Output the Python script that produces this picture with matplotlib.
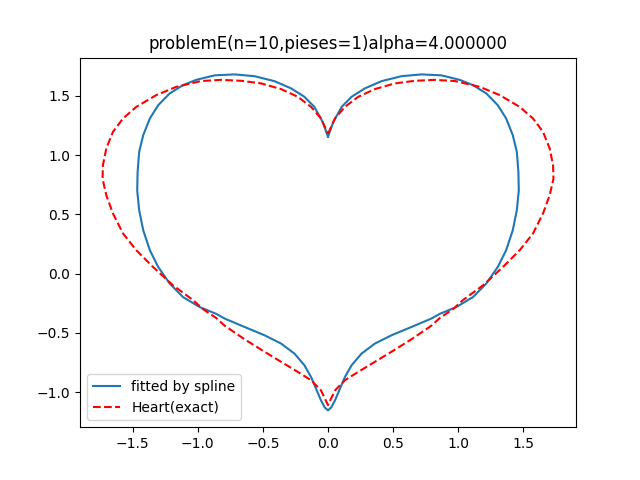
import numpy as np
import matplotlib
matplotlib.use("Agg")
import matplotlib.pyplot as plt

# Right half of the fitted spline curve (top cusp -> clockwise -> bottom)
spline_x = [0.0, 0.041, 0.105, 0.181, 0.283, 0.411, 0.564, 0.717, 0.870, 1.011,
            1.113, 1.215, 1.303, 1.367, 1.418, 1.449, 1.461, 1.464, 1.449, 1.418,
            1.367, 1.303, 1.215, 1.113, 0.986, 0.858, 0.793, 0.640, 0.487, 0.360,
            0.257, 0.181, 0.130, 0.092, 0.054, 0.025, 0.0]
spline_y = [1.155, 1.28, 1.407, 1.492, 1.563, 1.624, 1.666, 1.681, 1.673, 1.635,
            1.590, 1.520, 1.421, 1.309, 1.168, 1.027, 0.858, 0.700, 0.535, 0.366,
            0.197, 0.056, -0.084, -0.198, -0.282, -0.340, -0.380, -0.451, -0.521, -0.591,
            -0.676, -0.774, -0.873, -0.971, -1.07, -1.13, -1.155]

# Right half of the exact heart
heart_x = [0.0, 0.054, 0.130, 0.232, 0.360, 0.513, 0.667, 0.820, 0.973, 1.164,
           1.318, 1.471, 1.573, 1.650, 1.701, 1.727, 1.730, 1.701, 1.650, 1.573,
           1.471, 1.343, 1.190, 1.034, 0.960, 0.858, 0.793, 0.640, 0.487, 0.360,
           0.232, 0.130, 0.054, 0.0]
heart_y = [1.18, 1.31, 1.407, 1.492, 1.557, 1.605, 1.627, 1.635, 1.625, 1.576,
           1.506, 1.407, 1.309, 1.196, 1.056, 0.915, 0.800, 0.661, 0.507, 0.338,
           0.197, 0.056, -0.099, -0.225, -0.300, -0.375, -0.440, -0.555, -0.660, -0.745,
           -0.830, -0.900, -0.986, -1.11]

def full(xr, yr):
    xr = np.asarray(xr); yr = np.asarray(yr)
    return np.concatenate([xr, -xr[::-1][1:]]), np.concatenate([yr, yr[::-1][1:]])

sx, sy = full(spline_x, spline_y)
hx, hy = full(heart_x, heart_y)

fig, ax = plt.subplots(figsize=(6.4, 4.8), dpi=100)
ax.plot(sx, sy, label="fitted by spline")
ax.plot(hx, hy, "r--", label="Heart(exact)")
ax.set_title("problemE(n=10,pieses=1)alpha=4.000000")
ax.legend(loc="lower left")
fig.savefig("out.png")
